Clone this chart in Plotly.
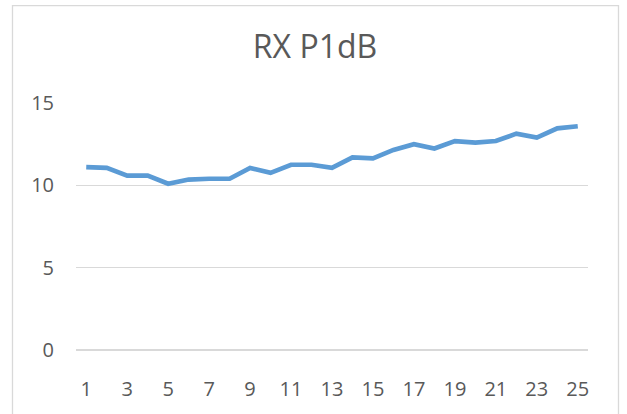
import plotly.graph_objects as go

categories = list(range(1, 26))
rx_p1db = [11.10, 11.06, 10.59, 10.59, 10.10, 10.35, 10.40, 10.40, 11.06, 10.76,
           11.25, 11.25, 11.06, 11.70, 11.64, 12.15, 12.50, 12.24, 12.69, 12.60,
           12.69, 13.14, 12.90, 13.46, 13.59]
x_tick_labels = [str(c) for c in categories if c % 2 == 1]
y_ticks = [0, 5, 10, 15]

W, H = 627, 414
L, R, T, B = 76, 39, 103, 61

fig = go.Figure()
fig.add_trace(go.Scatter(
    x=categories, y=rx_p1db, mode="lines",
    line=dict(color="#5B9BD5", width=4.7, shape="linear"),
    showlegend=False, hoverinfo="skip"))

pw = W - L - R
ph = H - T - B
fig.add_shape(type="rect", xref="paper", yref="paper",
              x0=(12.5 - L) / pw, x1=(618.5 - L) / pw,
              y0=(H - B - 430) / ph, y1=(H - B - 4.5) / ph,
              line=dict(color="#D9D9D9", width=1.3), fillcolor="rgba(0,0,0,0)", layer="below")

fig.update_layout(
    width=W, height=H,
    margin=dict(l=L, r=R, t=T, b=B),
    paper_bgcolor="white", plot_bgcolor="white",
    title=dict(text="RX P1dB", x=315 / W, xanchor="center", xref="container",
               y=1 - 47 / H, yanchor="middle",
               font=dict(family="Open Sans, Liberation Sans, sans-serif", size=32, color="#595959")),
    font=dict(family="Open Sans, Liberation Sans, sans-serif", color="#595959"),
    xaxis=dict(range=[0.5, 25.5], tickmode="array",
               tickvals=[c for c in categories if c % 2 == 1], ticktext=x_tick_labels,
               showgrid=False, zeroline=False, showline=False, ticks="",
               tickfont=dict(size=20, color="#595959"), ticklabelstandoff=25),
    yaxis=dict(range=[0, 15], tickmode="array", tickvals=y_ticks,
               ticktext=[str(v) for v in y_ticks],
               showgrid=True, gridcolor="#D9D9D9", gridwidth=1.3,
               zeroline=True, zerolinecolor="#D9D9D9", zerolinewidth=1.3,
               showline=False, ticks="",
               tickfont=dict(size=20, color="#595959"), ticklabelstandoff=21),
)

fig.write_html(
    "out.html",
    config={"displayModeBar": False, "staticPlot": True},
    post_script=("document.body.style.margin='0';"
                 "document.body.style.overflow='hidden';"
                 "document.documentElement.style.overflow='hidden';"),
)
